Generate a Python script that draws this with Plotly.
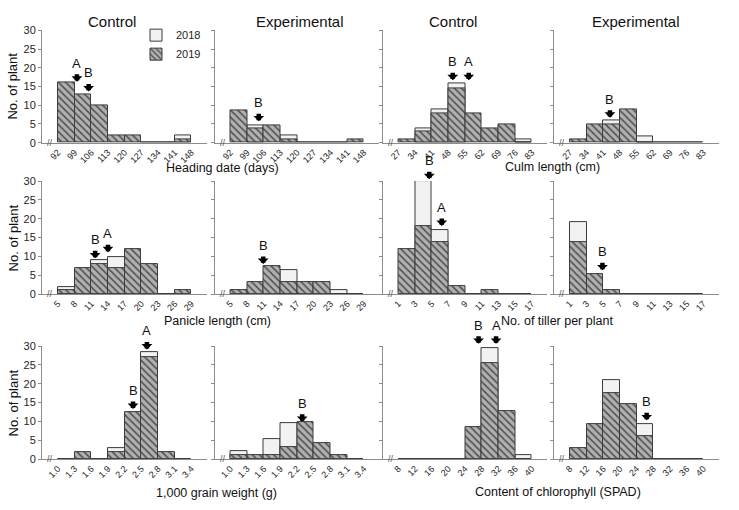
import plotly.graph_objects as go

# ---------------- data ----------------
heading_ticks = [92, 99, 106, 113, 120, 127, 134, 141, 148]
heading_ctrl_2018 = [None, None, None, None, None, None, None, 2.0]
heading_ctrl_2019 = [16, 13, 10, 2, 2, 0, 0, 1]
heading_exp_2018 = [None, 4.6, None, 1.9, None, None, None, None]
heading_exp_2019 = [8.5, 3.7, 4.7, 1.0, 0, 0, 0, 1.0]

culm_ticks = [27, 34, 41, 48, 55, 62, 69, 76, 83]
culm_ctrl_2018 = [None, 3.9, 8.9, 15.8, None, None, None, 1.0]
culm_ctrl_2019 = [1.0, 2.9, 7.7, 14.6, 7.8, 3.8, 4.9, 0]
culm_exp_2018 = [None, None, 5.9, None, 1.7, None, None, None]
culm_exp_2019 = [1.0, 4.9, 4.9, 8.8, 0, 0, 0, 0]

panicle_ticks = [5, 8, 11, 14, 17, 20, 23, 26, 29]
panicle_ctrl_2018 = [1.8, None, 8.9, 9.9, None, None, None, None]
panicle_ctrl_2019 = [1.0, 7.0, 8.0, 6.9, 11.9, 8.0, 0, 1.0]
panicle_exp_2018 = [None, None, None, 6.3, None, None, 1.0, None]
panicle_exp_2019 = [1.0, 3.1, 7.3, 3.1, 3.1, 3.1, 0, 0]

tiller_ticks = [1, 3, 5, 7, 9, 11, 13, 15, 17]
tiller_ctrl_2018 = [None, 29.9, 17.1, None, None, None, None, None]
tiller_ctrl_2019 = [11.9, 18.1, 13.8, 2.2, 0, 1.1, 0, 0]
tiller_exp_2018 = [19.0, None, None, None, None, None, None, None]
tiller_exp_2019 = [13.7, 5.3, 1.1, 0, 0, 0, 0, 0]

grain_ticks = [1.0, 1.3, 1.6, 1.9, 2.2, 2.5, 2.8, 3.1, 3.4]
grain_tick_labels = ["1.0", "1.3", "1.6", "1.9", "2.2", "2.5", "2.8", "3.1", "3.4"]
grain_ctrl_2018 = [None, None, None, 3.0, None, 28.3, None, None]
grain_ctrl_2019 = [0, 1.9, 0, 1.9, 12.4, 27.1, 1.9, 0]
grain_exp_2018 = [2.0, None, 5.2, 9.5, None, None, None, None]
grain_exp_2019 = [1.0, 1.0, 1.0, 3.1, 9.7, 4.2, 1.0, 0]

chl_ticks = [8, 12, 16, 20, 24, 28, 32, 36, 40]
chl_ctrl_2018 = [None, None, None, None, None, 29.6, None, 1.0]
chl_ctrl_2019 = [0, 0, 0, 0, 8.6, 25.5, 12.7, 0]
chl_exp_2018 = [None, None, 21.1, None, 9.3, None, None, None]
chl_exp_2019 = [3.0, 9.2, 17.6, 14.5, 6.2, 0, 0, 0]

# mean markers: (letter, x value, height of arrow tip)
heading_ctrl_marks = [("A", 100.0, 16.3), ("B", 104.9, 13.7)]
heading_exp_marks = [("B", 103.9, 5.7)]
culm_ctrl_marks = [("B", 49.8, 16.7), ("A", 56.5, 16.7)]
culm_exp_marks = [("B", 43.8, 6.7)]
panicle_ctrl_marks = [("B", 11.7, 9.5), ("A", 14.0, 11.1)]
panicle_exp_marks = [("B", 10.9, 8.0)]
tiller_ctrl_marks = [("B", 4.7, 30.5), ("A", 6.2, 18.1)]
tiller_exp_marks = [("B", 4.9, 6.3)]
grain_ctrl_marks = [("B", 2.35, 13.3), ("A", 2.6, 29.1)]
grain_exp_marks = [("B", 2.29, 9.9)]
chl_ctrl_marks = [("B", 27.2, 30.6), ("A", 31.4, 30.6)]
chl_exp_marks = [("B", 26.4, 10.3)]

col_titles = ["Control", "Experimental", "Control", "Experimental"]
x_titles = ["Heading date (days)", "Culm length (cm)", "Panicle length (cm)",
            "No. of tiller per plant", "1,000 grain weight (g)", "Content of chlorophyll (SPAD)"]
y_title = "No. of plant"
y_ticks = [0, 5, 10, 15, 20, 25, 30]
Y_MAX = 30

panels = [
    (heading_ticks, None, heading_ctrl_2018, heading_ctrl_2019, heading_ctrl_marks),
    (heading_ticks, None, heading_exp_2018, heading_exp_2019, heading_exp_marks),
    (culm_ticks, None, culm_ctrl_2018, culm_ctrl_2019, culm_ctrl_marks),
    (culm_ticks, None, culm_exp_2018, culm_exp_2019, culm_exp_marks),
    (panicle_ticks, None, panicle_ctrl_2018, panicle_ctrl_2019, panicle_ctrl_marks),
    (panicle_ticks, None, panicle_exp_2018, panicle_exp_2019, panicle_exp_marks),
    (tiller_ticks, None, tiller_ctrl_2018, tiller_ctrl_2019, tiller_ctrl_marks),
    (tiller_ticks, None, tiller_exp_2018, tiller_exp_2019, tiller_exp_marks),
    (grain_ticks, grain_tick_labels, grain_ctrl_2018, grain_ctrl_2019, grain_ctrl_marks),
    (grain_ticks, grain_tick_labels, grain_exp_2018, grain_exp_2019, grain_exp_marks),
    (chl_ticks, None, chl_ctrl_2018, chl_ctrl_2019, chl_ctrl_marks),
    (chl_ticks, None, chl_exp_2018, chl_exp_2019, chl_exp_marks),
]

# ---------------- layout geometry (pixels) ----------------
W, H = 739, 510
FONT = "Arial, 'Liberation Sans', Helvetica, sans-serif"
TXT = "#262626"
AXC = "#8c8c8c"
EDGE = "#3c3c3c"
col_x0 = [42, 214.5, 382.5, 554]
panel_w = 164.5
row_px = [(140, 25), (295, 179.3), (464, 348.3)]  # pixel y of value 0 and of value 30


def px_x(p):
    return p / W


def px_y(p):
    return 1 - p / H


def label(x, y, text, size, **kw):
    d = dict(x=x, y=y, xref="paper", yref="paper", text=text, showarrow=False,
             xanchor="center", yanchor="middle",
             font=dict(size=size, color="#111111", family=FONT))
    d.update(kw)
    return d


fig = go.Figure()
annotations = []
layout_axes = {}

for i, (ticks, labels, v18, v19, marks) in enumerate(panels):
    r, c = divmod(i, 4)
    n = i + 1
    xa = "x" if n == 1 else f"x{n}"
    ya = "y" if n == 1 else f"y{n}"
    w = ticks[1] - ticks[0]
    centers = [t + w / 2 for t in ticks[:-1]]
    fig.add_trace(go.Bar(
        x=centers, y=v18, width=w, xaxis=xa, yaxis=ya, name="2018",
        legendgroup="2018", showlegend=(i == 0),
        marker=dict(color="#f2f2f2", line=dict(color=EDGE, width=1)),
        hoverinfo="skip"))
    fig.add_trace(go.Bar(
        x=centers, y=v19, width=w, xaxis=xa, yaxis=ya, name="2019",
        legendgroup="2019", showlegend=(i == 0),
        marker=dict(color="#b0b0b0",
                    pattern=dict(shape="\\", fgcolor="#4e4e4e", bgcolor="#b0b0b0",
                                 size=5, solidity=0.3, fillmode="replace"),
                    line=dict(color=EDGE, width=1)),
        hoverinfo="skip"))

    x0 = col_x0[c]
    y0p, y30p = row_px[r]
    ybot, ytop = px_y(y0p), px_y(y30p)
    layout_axes["xaxis" if n == 1 else f"xaxis{n}"] = dict(
        domain=[px_x(x0), px_x(x0 + panel_w)],
        range=[ticks[0] - 0.95 * w, ticks[0] + 8.9 * w],
        anchor=ya, tickmode="array", tickvals=ticks,
        ticktext=labels if labels else [str(t) for t in ticks],
        tickangle=-45, tickfont=dict(size=9, color=TXT, family=FONT),
        showline=True, linecolor=AXC, linewidth=1, ticks="",
        showgrid=False, zeroline=False, fixedrange=True)
    layout_axes["yaxis" if n == 1 else f"yaxis{n}"] = dict(
        domain=[ybot, ytop], range=[0, Y_MAX], anchor=xa,
        tickmode="array", tickvals=y_ticks, showticklabels=(c == 0),
        tickfont=dict(size=11, color=TXT, family=FONT),
        ticks="outside", ticklen=3, tickcolor=AXC,
        showline=True, linecolor=AXC, linewidth=1,
        showgrid=False, zeroline=False, fixedrange=True)

    # axis break mark
    annotations.append(dict(x=ticks[0] - 0.47 * w, y=0, xref=xa, yref=ya, text="//",
                            showarrow=False, xanchor="center", yanchor="middle",
                            font=dict(size=9, color="#555555", family=FONT)))
    # mean arrows with letters (y given in paper units so marks above 30 still show)
    for letter, mx, my in marks:
        yp = ybot + (ytop - ybot) * my / Y_MAX
        annotations.append(dict(x=mx, y=yp, xref=xa, yref="paper", text="", showarrow=True,
                                ax=0, ay=-9, arrowhead=1, arrowwidth=4.5, arrowsize=0.4,
                                arrowcolor="#000000", standoff=0))
        annotations.append(dict(x=mx, y=yp, xref=xa, yref="paper", text=letter,
                                showarrow=False, xanchor="center", yanchor="bottom",
                                yshift=9, font=dict(size=13, color="#111111", family=FONT)))

# column titles
for cx, t in zip([112, 300, 453, 636], col_titles):
    annotations.append(label(px_x(cx), px_y(16), t, 15))

# x axis titles
for (cx, cy), t in zip([(222, 166), (552, 165), (217, 323), (557, 323), (216, 499), (558, 498)],
                       x_titles):
    annotations.append(label(px_x(cx), px_y(cy), t, 12.5))

# y axis titles
for cy in [82.5, 238, 407]:
    annotations.append(label(px_x(13), px_y(cy), y_title, 13, textangle=-90))

fig.update_layout(
    width=W, height=H, margin=dict(l=0, r=0, t=0, b=0),
    paper_bgcolor="white", plot_bgcolor="white",
    barmode="overlay", bargap=0,
    showlegend=True,
    legend=dict(x=px_x(136), y=px_y(15), xanchor="left", yanchor="top",
                bgcolor="rgba(0,0,0,0)", font=dict(size=11, color=TXT, family=FONT),
                tracegroupgap=0),
    annotations=annotations,
    **layout_axes,
)

fig.write_html("out.html", config={"displayModeBar": False},
               post_script="document.body.style.margin='0';")
